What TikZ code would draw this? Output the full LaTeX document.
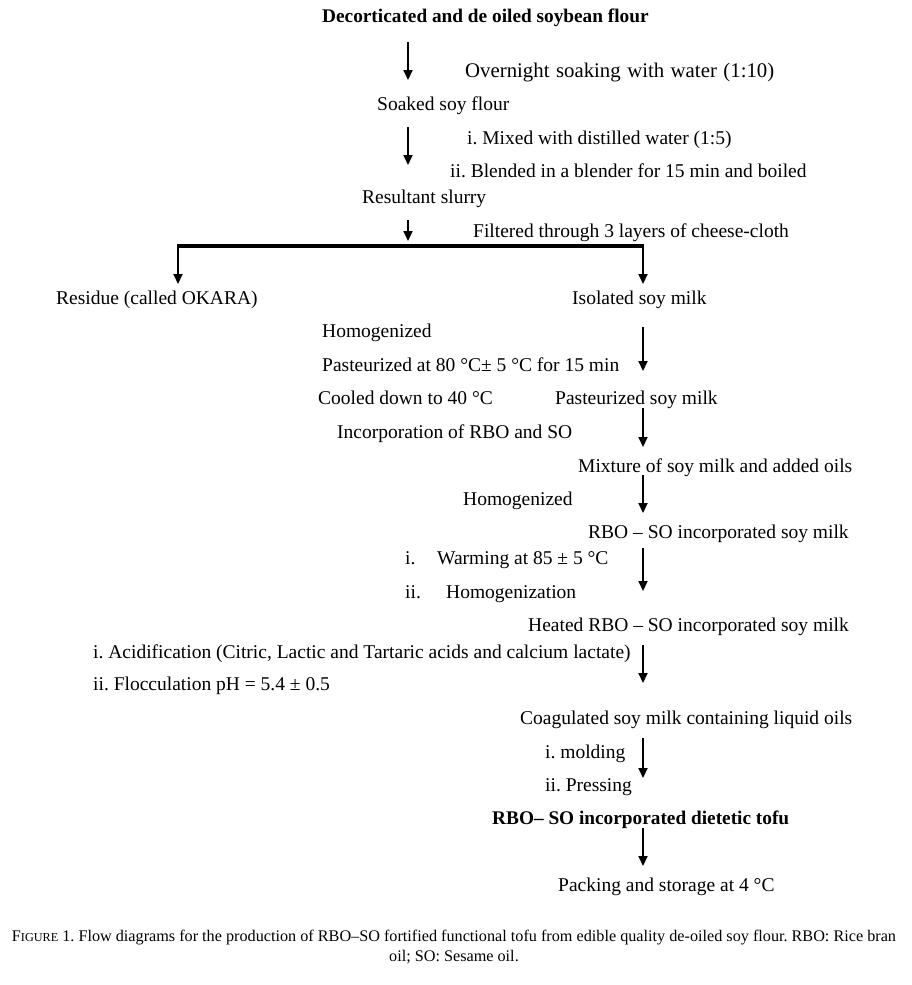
\documentclass[tikz,border=0pt]{standalone}
\usepackage{fontspec}
\setmainfont{Liberation Serif}
\usetikzlibrary{arrows.meta,positioning,calc}
\frenchspacing

\begin{document}
\begin{tikzpicture}[x=1pt,y=-1pt,
  txt/.style={anchor=base west,inner sep=0pt,font=\fontsize{19.5}{22}\selectfont},
  hd/.style={anchor=base west,inner sep=0pt,font=\fontsize{19.3}{22}\selectfont\bfseries},
  flow/.style={-{Triangle[length=10pt,width=9pt]},line width=2pt},
  bar/.style={line width=3.5pt}]
  \useasboundingbox (0,0) rectangle (911,985);
  \node[hd] (flour) at (322,23) {Decorticated and de oiled soybean flour};
  \node[txt,font=\fontsize{20.8}{22}\selectfont] (soak) at (465,77) {\spaceskip=6.5pt plus 1pt\relax Overnight soaking with water (1:10)};
  \node[txt] (soaked) at (377,110) {Soaked soy flour};
  \node[txt] (mixw) at (467,144) {i. Mixed with distilled water (1:5)};
  \node[txt] (blend) at (450,177) {ii. Blended in a blender for 15 min and boiled};
  \node[txt] (slurry) at (362,203) {Resultant slurry};
  \node[txt] (filt) at (473,237) {Filtered through 3 layers of cheese-cloth};
  \node[txt] (okara) at (56,304) {Residue (called OKARA)};
  \node[txt] (milk) at (572,304) {Isolated soy milk};
  \node[txt] (homa) at (322,337) {Homogenized};
  \node[txt] (past) at (322,371) {Pasteurized at 80 °C± 5 °C for 15 min};
  \node[txt] (cool) at (318,404) {Cooled down to 40 °C};
  \node[txt] (pmilk) at (555,404) {Pasteurized soy milk};
  \node[txt] (incorp) at (337,438) {Incorporation of RBO and SO};
  \node[txt] (mixt) at (578,472) {Mixture of soy milk and added oils};
  \node[txt] (homb) at (463,505) {Homogenized};
  \node[txt] (rsmilk) at (588,538) {RBO – SO incorporated soy milk};
  \node[txt] (warmi) at (405,564) {i.};
  \node[txt] (warm) at (437,564) {Warming at 85 ± 5 °C};
  \node[txt] (homci) at (405,598) {ii.};
  \node[txt] (homc) at (446,598) {Homogenization};
  \node[txt] (heated) at (528,631) {Heated RBO – SO incorporated soy milk};
  \node[txt] (acid) at (93,658) {i. Acidification (Citric, Lactic and Tartaric acids and calcium lactate)};
  \node[txt] (floc) at (93,690) {ii. Flocculation pH = 5.4 ± 0.5};
  \node[txt] (coag) at (520,724) {Coagulated soy milk containing liquid oils};
  \node[txt] (mold) at (545,758) {i. molding};
  \node[txt] (press) at (545,791) {ii. Pressing};
  \node[hd] (tofu) at (492,824) {RBO– SO incorporated dietetic tofu};
  \node[txt] (pack) at (558,891) {Packing and storage at 4 °C};
  \node[inner sep=0pt,align=center,font=\fontsize{16.2}{20}\selectfont] (cap) at (454,947)
    {F{\fontsize{12.2}{20}\selectfont IGURE} 1. Flow diagrams for the production of RBO--SO fortified functional tofu from edible quality de-oiled soy flour. RBO: Rice bran\\ oil; SO: Sesame oil.};
  \foreach \n/\x/\a/\b in {a/408/42/80, b/408/127/165, c/408/220/241, d/643/327/371,
      e/643/408/447, f/643/475/513, g/643/548/591, h/643/645/683, i/643/738/778, j/643/828/866} {
    \coordinate (s\n) at (\x,\a);
    \coordinate (e\n) at (\x,\b);
    \draw[flow] (s\n) -- (e\n);
  }
  \coordinate (splitl) at (178,246);
  \coordinate (splitr) at (643,246);
  \coordinate (okaratop) at (178,284);
  \coordinate (milktop) at (643,284);
  \draw[bar] ([xshift=-1pt]splitl) -- ([xshift=1pt]splitr);
  \draw[flow] (splitl) -- (okaratop);
  \draw[flow] (splitr) -- (milktop);
\end{tikzpicture}
\end{document}
